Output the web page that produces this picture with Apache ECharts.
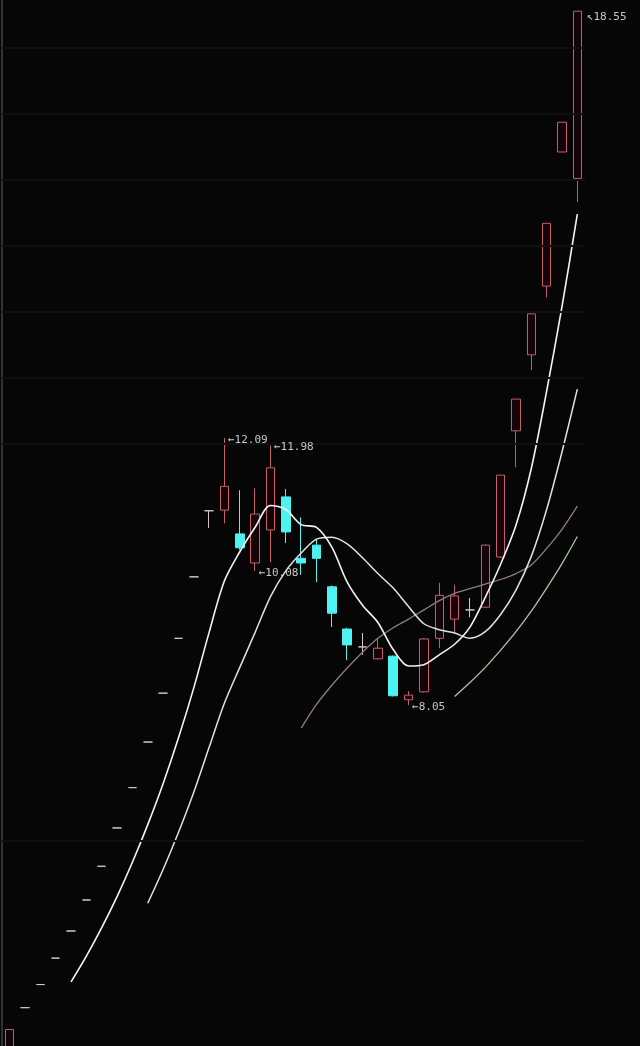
<!DOCTYPE html>
<html><head><meta charset="utf-8">
<script src="https://cdn.jsdelivr.net/npm/echarts@6/dist/echarts.min.js"></script>
<style>html,body{margin:0;padding:0;background:#060606;}#c{width:640px;height:1046px;}</style>
</head><body><div id="c"></div>
<script>
const days = ['1','2','3','4','5','6','7','8','9','10','11','12','13','14','15','16','17','18','19','20','21','22','23','24','25','26','27','28','29','30','31','32','33','34','35','36','37','38'];
const opens  = [2.86,3.47,3.82,4.22,4.63,5.10,5.61,6.19,6.80,7.49,8.23,9.06,9.99,10.99,11.00,10.64,10.20,10.70,11.20,10.27,10.47,9.84,9.20,8.93,8.75,8.79,8.13,8.25,9.06,9.35,9.49,9.53,10.29,12.20,13.35,14.39,16.42,16.02];
const closes = [3.14,3.47,3.82,4.22,4.63,5.10,5.61,6.19,6.80,7.49,8.23,9.06,9.99,10.99,11.36,10.43,10.94,11.64,10.67,10.20,10.27,9.44,8.96,8.93,8.91,8.19,8.20,9.05,9.71,9.70,9.49,10.47,11.53,12.68,13.97,15.34,16.87,18.55];
const lows   = [2.86,3.47,3.82,4.22,4.63,5.10,5.61,6.19,6.80,7.49,8.23,9.06,9.99,10.73,10.80,10.40,10.08,10.21,10.50,10.02,9.91,9.23,8.73,8.81,8.74,8.18,8.05,8.24,8.91,9.14,9.38,9.52,10.28,11.65,13.12,14.22,16.42,15.66];
const highs  = [3.14,3.47,3.82,4.22,4.63,5.10,5.61,6.19,6.80,7.49,8.23,9.06,9.99,10.99,12.09,11.30,11.33,11.98,11.32,10.89,10.55,9.86,9.22,9.14,9.06,8.80,8.26,9.06,9.90,9.87,9.67,10.48,11.53,12.68,13.97,15.34,16.87,18.55];
const ma5  = ['-','-','-','-',3.86,4.25,4.68,5.15,5.67,6.24,6.86,7.55,8.31,9.15,9.93,10.37,10.74,11.07,11.01,10.78,10.74,10.44,9.91,9.56,9.30,8.89,8.64,8.66,8.81,8.97,9.23,9.68,10.18,10.77,11.63,12.80,14.08,15.48];
const ma10 = ['-','-','-','-','-','-','-','-','-',5.05,5.56,6.12,6.73,7.41,8.08,8.62,9.15,9.69,10.08,10.35,10.56,10.59,10.49,10.28,10.04,9.82,9.54,9.28,9.19,9.14,9.06,9.16,9.42,9.79,10.30,11.01,11.88,12.83];
const ma20 = ['-','-','-','-','-','-','-','-','-','-','-','-','-','-','-','-','-','-','-',7.70,8.06,8.35,8.61,8.85,9.06,9.22,9.35,9.49,9.63,9.74,9.81,9.88,9.95,10.04,10.17,10.42,10.71,11.06];
const ma30 = ['-','-','-','-','-','-','-','-','-','-','-','-','-','-','-','-','-','-','-','-','-','-','-','-','-','-','-','-','-',8.18,8.39,8.62,8.88,9.16,9.47,9.82,10.19,10.60];
const extremes = [[14,12.09],[17,11.98],[16,10.08],[26,8.05],[37,18.55]];
const gridLevels = [6,12,13,14,15,16,17,18];

const kData = opens.map((o,i)=>[o,closes[i],lows[i],highs[i]]);
const chart = echarts.init(document.getElementById('c'), null, {renderer:'canvas'});
const lbl = {show:true, position:'right', distance:3, offset:[0,2], color:'#c8c8c8', fontFamily:'DejaVu Sans Mono', fontSize:11};
chart.setOption({
  backgroundColor:'#060606',
  animation:false,
  grid:{left:2, right:55, top:0, bottom:0},
  xAxis:{type:'category', data:days, boundaryGap:true, axisLine:{show:false}, axisTick:{show:false}, axisLabel:{show:false}, splitLine:{show:false}},
  yAxis:{type:'value', min:2.89, max:18.72, axisLine:{show:true, lineStyle:{color:'#333333', width:2}}, axisTick:{show:false}, axisLabel:{show:false}, splitLine:{show:false}},
  series:[
    {type:'candlestick', data:kData, barWidth:9, clip:true,
     itemStyle:{color:'#14040a', color0:'#4ef2f0', borderColor:'#c65c6c', borderColor0:'#4ef2f0', borderColorDoji:'#d2c8cc', borderWidth:1},
     markPoint:{symbol:'rect', symbolSize:1, itemStyle:{color:'rgba(0,0,0,0)'}, silent:true,
       label:lbl,
       data: extremes.map(e=>({coord:[days[e[0]], e[1]], value:e[1],
         label: e[1] === 18.55 ? {formatter:'↖'+e[1].toFixed(2), offset:[6,6]} : {formatter:'←'+e[1].toFixed(2)}}))},
     markLine:{silent:true, symbol:'none', label:{show:false}, lineStyle:{color:'#101010', width:2, type:'solid'},
       data: gridLevels.map(v=>({yAxis:v}))}
    },
    {type:'line', data:ma30, smooth:0.3, showSymbol:false, lineStyle:{color:'#b4beb4', width:1.3}},
    {type:'line', data:ma20, smooth:0.3, showSymbol:false, lineStyle:{color:'#927a86', width:1.3}},
    {type:'line', data:ma10, smooth:0.3, showSymbol:false, lineStyle:{color:'#e2e2e2', width:1.5}},
    {type:'line', data:ma5, smooth:0.3, showSymbol:false, lineStyle:{color:'#f4f4f4', width:1.6}}
  ]
});
</script></body></html>
